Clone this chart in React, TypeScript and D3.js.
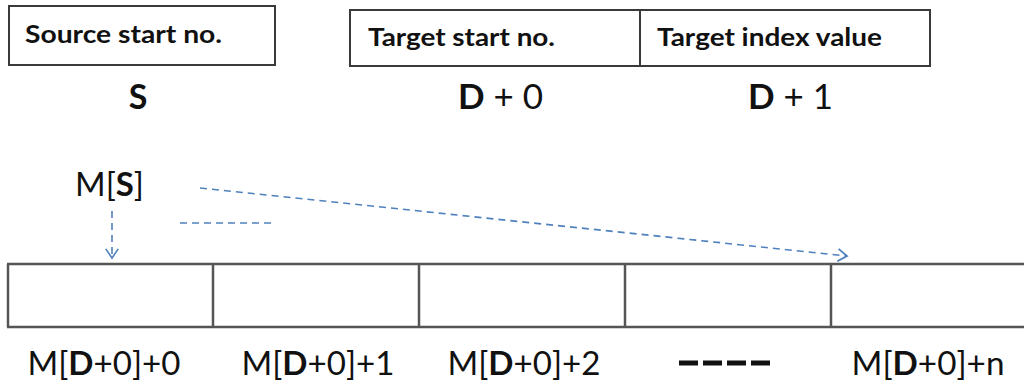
import React from "react";
import * as d3 from "d3";

const headerSource = ["Source start no."];
const headerTarget = ["Target start no.", "Target index value"];
const operandSource = ["S"];
const operandTarget = [
  { bold: "D", rest: " + 0" },
  { bold: "D", rest: " + 1" },
];
const cellIndexes = ["0", "1", "2", "dots", "n"];

const W = 1024;
const H = 385;
const FONT = "Lato, 'Open Sans', sans-serif";
const BLUE = "#4f81bd";

export default function App() {
  const cellX = d3.scaleLinear().domain([0, 5]).range([7, 1037]);
  const tgtX = d3.scaleLinear().domain([0, 2]).range([350, 930]);
  const cellTop = 264;
  const cellBot = 327;

  const line = d3.line();
  const chevron = (tx: number, ty: number, angle: number) => {
    const a1 = angle + Math.PI - 0.6;
    const a2 = angle + Math.PI + 0.6;
    const L = 11;
    return line([
      [tx + L * Math.cos(a1), ty + L * Math.sin(a1)],
      [tx, ty],
      [tx + L * Math.cos(a2), ty + L * Math.sin(a2)],
    ]) as string;
  };

  const longStart: [number, number] = [200, 188];
  const longEnd: [number, number] = [847, 256];
  const longAngle = Math.atan2(longEnd[1] - longStart[1], longEnd[0] - longStart[0]);

  return (
    <svg
      width={W}
      height={H}
      style={{ position: "absolute", left: 0, top: 0, background: "#fff" }}
      fontFamily={FONT}
    >
      {/* Source header box */}
      <rect x={9} y={6} width={266} height={59} fill="none" stroke="#3a3a3a" strokeWidth={2} />
      {headerSource.map((t) => (
        <text key={t} x={25} y={43} fontSize={24} fontWeight={700} fill="#111"
          textLength={197} lengthAdjust="spacingAndGlyphs">{t}</text>
      ))}
      {/* Target header box */}
      <rect x={tgtX(0)} y={10} width={tgtX(2) - tgtX(0)} height={56} fill="none" stroke="#3a3a3a" strokeWidth={2} />
      <line x1={640} x2={640} y1={10} y2={66} stroke="#3a3a3a" strokeWidth={2} />
      {headerTarget.map((t, i) => (
        <text key={t} x={i === 0 ? 368 : 657} y={46} fontSize={24} fontWeight={700} fill="#111"
          textLength={i === 0 ? 187 : 225} lengthAdjust="spacingAndGlyphs">{t}</text>
      ))}

      {/* Operands */}
      {operandSource.map((t) => (
        <text key={t} x={138} y={109} fontSize={34} fontWeight={700} textAnchor="middle" fill="#111">{t}</text>
      ))}
      {operandTarget.map((o, i) => (
        <text key={i} x={i === 0 ? 458 : 748} y={109} fontSize={35} fill="#111">
          <tspan fontWeight={700}>{o.bold}</tspan>
          <tspan>{o.rest}</tspan>
        </text>
      ))}

      {/* M[S] */}
      <text x={75} y={196} fontSize={33} fill="#111">
        <tspan>M[</tspan>
        <tspan fontWeight={700}>S</tspan>
        <tspan>]</tspan>
      </text>

      {/* dashed arrows */}
      <path d={line([[112, 211], [112, 257]]) as string} stroke={BLUE} strokeWidth={1.6} strokeDasharray="7 5" fill="none" />
      <path d={chevron(112, 258, Math.PI / 2)} stroke={BLUE} strokeWidth={1.6} fill="none" />
      <path d={line([[180, 223], [273, 223]]) as string} stroke={BLUE} strokeWidth={1.6} strokeDasharray="7 5" fill="none" />
      <path d={line([longStart, longEnd]) as string} stroke={BLUE} strokeWidth={1.6} strokeDasharray="7 5" fill="none" />
      <path d={chevron(longEnd[0], longEnd[1], longAngle)} stroke={BLUE} strokeWidth={1.8} fill="none" />

      {/* cells */}
      <line x1={cellX(0)} x2={W} y1={cellTop} y2={cellTop} stroke="#555" strokeWidth={2.5} />
      <line x1={cellX(0)} x2={W} y1={cellBot} y2={cellBot} stroke="#555" strokeWidth={2.5} />
      {d3.range(0, 5).map((i) => (
        <line key={i} x1={cellX(i) + (i === 0 ? 1 : 0)} x2={cellX(i) + (i === 0 ? 1 : 0)} y1={cellTop} y2={cellBot} stroke="#555" strokeWidth={2.5} />
      ))}

      {/* cell labels */}
      {cellIndexes.map((c, i) => {
        const cx = (cellX(i) + cellX(i + 1)) / 2;
        if (c === "dots") {
          return (
            <g key={i}>
              <path d={line([[cx - 49, 363], [cx + 45, 363]]) as string} stroke="#111" strokeWidth={5} strokeDasharray="19 5" fill="none" />
            </g>
          );
        }
        const shift = i === 0 || i === 4 ? -6 : 2;
        return (
          <text key={i} x={cx + shift} y={375} fontSize={32} fill="#111" textAnchor="middle"
            textLength={153} lengthAdjust="spacingAndGlyphs">
            <tspan>M[</tspan>
            <tspan fontWeight={700}>D</tspan>
            <tspan>{"+0]+" + c}</tspan>
          </text>
        );
      })}
    </svg>
  );
}
